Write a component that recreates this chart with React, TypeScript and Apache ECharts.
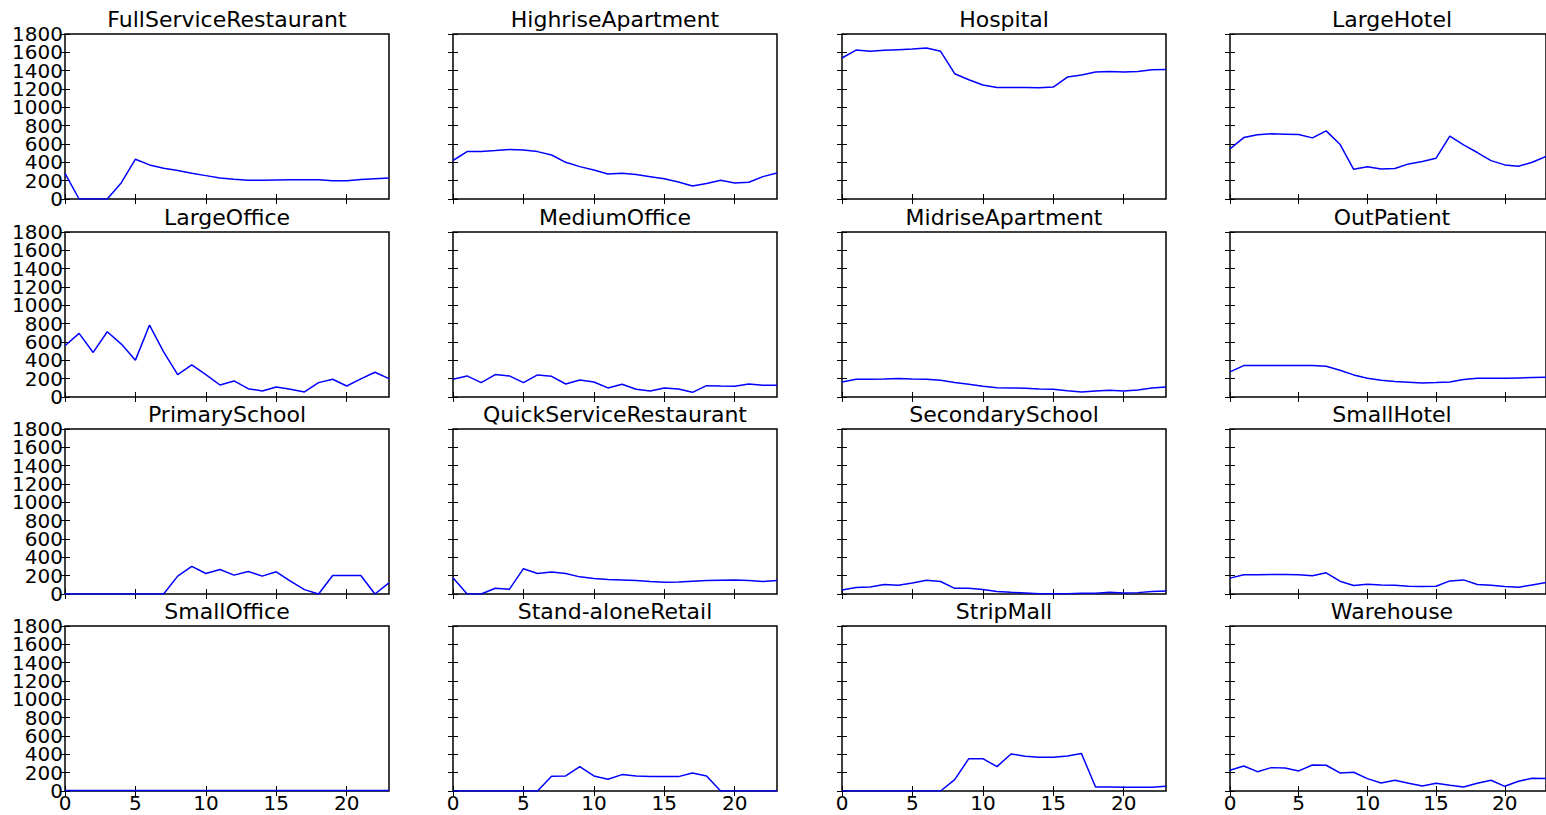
import React, { useEffect, useRef } from "react";
import * as echarts from "echarts";

const hours = [0, 1, 2, 3, 4, 5, 6, 7, 8, 9, 10, 11, 12, 13, 14, 15, 16, 17, 18, 19, 20, 21, 22, 23];
const xTicks = [0, 5, 10, 15, 20];
const yTicksA = [0, 400, 800, 1200, 1600];
const yTicksB = [200, 600, 1000, 1400, 1800];

const fullServiceRestaurant = [280, 0, 0, 0, 178, 434, 372, 335, 310, 280, 255, 230, 215, 204, 205, 208, 210, 210, 210, 200, 200, 212, 222, 228];
const highriseApartment = [420, 517, 517, 528, 540, 535, 517, 480, 400, 353, 317, 273, 280, 266, 244, 222, 186, 142, 168, 204, 175, 182, 244, 284];
const hospital = [1538, 1625, 1611, 1622, 1629, 1636, 1647, 1611, 1367, 1301, 1243, 1217, 1217, 1217, 1213, 1221, 1330, 1352, 1385, 1392, 1385, 1392, 1410, 1414];
const largeHotel = [547, 670, 700, 711, 707, 703, 667, 743, 598, 324, 353, 328, 332, 383, 408, 445, 685, 590, 507, 419, 372, 357, 401, 465];
const largeOffice = [559, 694, 486, 712, 577, 402, 785, 493, 245, 350, 245, 131, 175, 91, 66, 110, 84, 55, 157, 194, 120, 197, 270, 200];
const mediumOffice = [194, 230, 157, 245, 230, 157, 241, 226, 142, 186, 164, 99, 139, 84, 66, 99, 88, 51, 124, 120, 117, 142, 128, 128];
const midriseApartment = [164, 194, 194, 197, 201, 197, 194, 183, 157, 139, 117, 102, 99, 95, 88, 84, 69, 55, 66, 73, 66, 77, 99, 110];
const outPatient = [274, 343, 343, 343, 343, 343, 343, 336, 292, 241, 204, 183, 168, 161, 153, 157, 164, 190, 204, 204, 204, 208, 212, 215];
const primarySchool = [0, 0, 0, 0, 0, 0, 0, 0, 195, 301, 224, 268, 206, 246, 195, 242, 140, 48, 0, 202, 202, 202, 0, 121];
const quickServiceRestaurant = [176, 0, 0, 62, 51, 276, 224, 239, 224, 187, 169, 158, 154, 147, 136, 129, 132, 140, 147, 151, 154, 147, 136, 147];
const secondarySchool = [44, 70, 77, 103, 95, 121, 151, 136, 62, 62, 48, 26, 18, 11, 4, 4, 4, 7, 7, 18, 11, 15, 26, 33];
const smallHotel = [173, 209, 209, 213, 213, 209, 198, 231, 140, 92, 107, 99, 95, 84, 81, 84, 143, 154, 103, 95, 81, 73, 99, 125];
const smallOffice = [6, 6, 6, 6, 6, 6, 6, 6, 6, 6, 6, 6, 6, 6, 6, 6, 6, 6, 6, 6, 6, 6, 6, 6];
const standAloneRetail = [0, 0, 0, 0, 0, 0, 0, 160, 164, 266, 164, 128, 179, 164, 157, 157, 157, 197, 164, 0, 0, 0, 0, 0];
const stripMall = [0, 0, 0, 0, 0, 0, 0, 0, 124, 353, 353, 266, 404, 379, 368, 368, 383, 408, 44, 44, 40, 40, 40, 51];
const warehouse = [226, 273, 211, 255, 251, 219, 284, 281, 197, 204, 135, 88, 117, 84, 55, 84, 62, 44, 84, 117, 51, 106, 139, 135];

const panels = [
  { title: "FullServiceRestaurant", values: fullServiceRestaurant },
  { title: "HighriseApartment", values: highriseApartment },
  { title: "Hospital", values: hospital },
  { title: "LargeHotel", values: largeHotel },
  { title: "LargeOffice", values: largeOffice },
  { title: "MediumOffice", values: mediumOffice },
  { title: "MidriseApartment", values: midriseApartment },
  { title: "OutPatient", values: outPatient },
  { title: "PrimarySchool", values: primarySchool },
  { title: "QuickServiceRestaurant", values: quickServiceRestaurant },
  { title: "SecondarySchool", values: secondarySchool },
  { title: "SmallHotel", values: smallHotel },
  { title: "SmallOffice", values: smallOffice },
  { title: "Stand-aloneRetail", values: standAloneRetail },
  { title: "StripMall", values: stripMall },
  { title: "Warehouse", values: warehouse },
];

const colLefts = [65, 453, 842, 1230];
const rowTops = [34, 232, 429, 626];
const plotW = 324;
const plotH = 165;
const FONT = "DejaVu Sans";

export default function App() {
  const ref = useRef<HTMLDivElement>(null);
  useEffect(() => {
    if (!ref.current) return;
    const chart = echarts.init(ref.current, null, { renderer: "svg" });
    const grids: any[] = [];
    const xAxes: any[] = [];
    const yAxes: any[] = [];
    const series: any[] = [];
    const graphics: any[] = [];
    const tickStyle = { color: "#000", width: 1 };
    const labelStyle = { color: "#000", fontSize: 20, fontFamily: FONT, lineHeight: 14 };
    const baseY = {
      type: "value",
      min: 0,
      max: 1800,
      interval: 200,
      axisLine: { show: false },
      splitLine: { show: false },
    };
    panels.forEach((p, i) => {
      const r = Math.floor(i / 4);
      const c = i % 4;
      grids.push({
        left: colLefts[c],
        top: rowTops[r],
        width: plotW,
        height: plotH,
        show: true,
        borderColor: "#000",
        borderWidth: 1.5,
        backgroundColor: "#fff",
      });
      const xIndex = xAxes.length;
      ["bottom", "top"].forEach((pos) => {
        xAxes.push({
          type: "value",
          gridIndex: i,
          position: pos,
          min: 0,
          max: 23,
          axisLine: { show: false },
          splitLine: { show: false },
          axisTick: { show: true, inside: true, length: 5, customValues: xTicks, lineStyle: tickStyle },
          axisLabel: {
            show: pos === "bottom" && r === 3,
            customValues: xTicks,
            margin: 5,
            formatter: (v: number) => String(v),
            ...labelStyle,
          },
        });
      });
      const yIndex = yAxes.length;
      yAxes.push({
        ...baseY,
        gridIndex: i,
        position: "left",
        axisTick: { show: true, inside: true, length: 5, lineStyle: tickStyle },
        axisLabel: {
          show: c === 0,
          customValues: yTicksA,
          margin: 2,
          showMinLabel: true,
          showMaxLabel: true,
          formatter: (v: number) => String(v),
          ...labelStyle,
        },
      });
      yAxes.push({
        ...baseY,
        gridIndex: i,
        position: "right",
        axisTick: { show: true, inside: true, length: 5, lineStyle: tickStyle },
        axisLabel: { show: false },
      });
      if (c === 0) {
        yAxes.push({
          ...baseY,
          gridIndex: i,
          position: "left",
          offset: 0,
          axisTick: { show: false },
          axisLabel: {
            show: true,
            customValues: yTicksB,
            margin: 2,
            showMinLabel: true,
            showMaxLabel: true,
            formatter: (v: number) => String(v),
            ...labelStyle,
          },
        });
      }
      series.push({
        type: "line",
        xAxisIndex: xIndex,
        yAxisIndex: yIndex,
        data: hours.map((h, k) => [h, p.values[k]]),
        symbol: "none",
        showSymbol: false,
        clip: true,
        silent: true,
        lineStyle: { color: "#0000ff", width: 1.5 },
      });
      graphics.push({
        type: "text",
        x: colLefts[c] + plotW / 2,
        y: rowTops[r] - 15,
        style: {
          text: p.title,
          fontSize: 22,
          fontFamily: FONT,
          fill: "#000",
          align: "center",
          verticalAlign: "middle",
        },
      });
    });
    chart.setOption({
      animation: false,
      backgroundColor: "#fff",
      grid: grids,
      xAxis: xAxes,
      yAxis: yAxes,
      series,
      graphic: graphics,
    });
    return () => chart.dispose();
  }, []);
  return (
    <div
      ref={ref}
      style={{ position: "fixed", left: 0, top: 0, width: 1546, height: 815, background: "#fff" }}
    />
  );
}
